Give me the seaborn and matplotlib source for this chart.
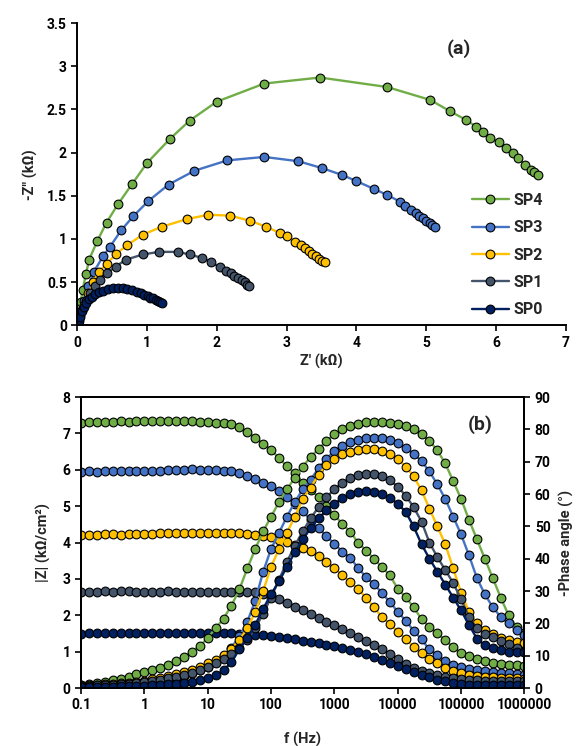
import numpy as np
import pandas as pd
import matplotlib
matplotlib.use("Agg")
import matplotlib.pyplot as plt
import seaborn as sns

# Samples and colours (Excel-like palette)
SAMPLES = ["SP4", "SP3", "SP2", "SP1", "SP0"]
COLORS = {"SP4": "#70AD47", "SP3": "#4472C4", "SP2": "#FFC000",
          "SP1": "#44546A", "SP0": "#002060"}

# (a) Nyquist data, Z' and -Z'' in kOhm
SP4_ZRE = [0.01, 0.03, 0.05, 0.077, 0.125, 0.17, 0.29, 0.42, 0.59, 0.79, 1.0, 1.33, 1.61, 2.0, 2.68,
           3.48, 4.44, 5.06, 5.34, 5.57, 5.72, 5.82, 5.92, 6.04, 6.15, 6.24, 6.32, 6.42, 6.50, 6.55, 6.60]
SP4_ZIM = [0.05, 0.15, 0.27, 0.41, 0.59, 0.76, 0.98, 1.19, 1.41, 1.64, 1.88, 2.16, 2.37, 2.59, 2.80,
           2.87, 2.76, 2.61, 2.48, 2.38, 2.30, 2.24, 2.17, 2.12, 2.05, 2.00, 1.94, 1.86, 1.80, 1.77, 1.74]
SP3_ZRE = [0.01, 0.04, 0.09, 0.16, 0.24, 0.37, 0.47, 0.63, 0.80, 1.02, 1.31, 1.68, 2.15, 2.68, 3.17,
           3.51, 3.80, 4.00, 4.25, 4.44, 4.63, 4.70, 4.79, 4.85, 4.90, 4.95, 5.00, 5.05, 5.09, 5.12]
SP3_ZIM = [0.04, 0.14, 0.28, 0.45, 0.62, 0.80, 0.91, 1.10, 1.26, 1.44, 1.63, 1.79, 1.91, 1.95, 1.90,
           1.82, 1.74, 1.67, 1.58, 1.51, 1.43, 1.38, 1.33, 1.30, 1.27, 1.24, 1.21, 1.18, 1.16, 1.14]
SP2_ZRE = [0.01, 0.04, 0.09, 0.16, 0.23, 0.31, 0.42, 0.56, 0.72, 0.94, 1.21, 1.57, 1.88, 2.19, 2.48,
           2.71, 2.90, 3.01, 3.12, 3.21, 3.26, 3.32, 3.37, 3.42, 3.47, 3.51, 3.55]
SP2_ZIM = [0.03, 0.12, 0.24, 0.37, 0.50, 0.62, 0.71, 0.83, 0.93, 1.05, 1.14, 1.23, 1.28, 1.27, 1.21,
           1.14, 1.07, 1.03, 0.97, 0.93, 0.90, 0.86, 0.83, 0.80, 0.77, 0.74, 0.73]
SP1_ZRE = [0.01, 0.03, 0.07, 0.12, 0.18, 0.26, 0.33, 0.42, 0.55, 0.70, 0.94, 1.17, 1.44, 1.61, 1.79,
           1.92, 2.05, 2.13, 2.20, 2.25, 2.31, 2.36, 2.40, 2.43, 2.46]
SP1_ZIM = [0.03, 0.09, 0.18, 0.28, 0.37, 0.45, 0.52, 0.60, 0.68, 0.76, 0.82, 0.85, 0.85, 0.82, 0.78,
           0.73, 0.67, 0.63, 0.60, 0.57, 0.55, 0.53, 0.50, 0.47, 0.45]
SP0_ZRE = [0.02, 0.04, 0.07, 0.10, 0.13, 0.17, 0.21, 0.26, 0.31, 0.37, 0.44, 0.51, 0.58, 0.65, 0.72,
           0.79, 0.85, 0.91, 0.96, 1.01, 1.05, 1.09, 1.13, 1.16, 1.19, 1.21]
SP0_ZIM = [0.05, 0.10, 0.16, 0.21, 0.26, 0.30, 0.33, 0.36, 0.38, 0.40, 0.42, 0.43, 0.43, 0.43, 0.42,
           0.41, 0.39, 0.37, 0.35, 0.34, 0.32, 0.31, 0.29, 0.28, 0.27, 0.26]

# (b) Bode data: frequency sweep (Hz), |Z| (kOhm/cm2), -phase (deg)
FREQ = [0.1, 0.1334, 0.1778, 0.2371, 0.3162, 0.4217, 0.5623, 0.7499,
        1.0, 1.334, 1.778, 2.371, 3.162, 4.217, 5.623, 7.499,
        10.0, 13.34, 17.78, 23.71, 31.62, 42.17, 56.23, 74.99,
        100.0, 133.4, 177.8, 237.1, 316.2, 421.7, 562.3, 749.9,
        1000.0, 1334.0, 1778.0, 2371.0, 3162.0, 4217.0, 5623.0, 7499.0,
        1e4, 1.334e4, 1.778e4, 2.371e4, 3.162e4, 4.217e4, 5.623e4, 7.499e4,
        1e5, 1.334e5, 1.778e5, 2.371e5, 3.162e5, 4.217e5, 5.623e5, 7.499e5, 1e6]

SP4_ZMOD = [7.30, 7.31, 7.31, 7.32, 7.32, 7.33, 7.32, 7.33, 7.33, 7.34, 7.33, 7.34, 7.34, 7.33, 7.33, 7.32,
            7.31, 7.30, 7.28, 7.25, 7.17, 7.05, 6.88, 6.72, 6.55, 6.32, 6.10, 5.90, 5.65, 5.45, 5.25, 5.00,
            4.75, 4.52, 4.29, 4.00, 3.78, 3.55, 3.33, 3.10, 2.73, 2.50, 2.22, 1.90, 1.68, 1.50, 1.32, 1.12,
            0.96, 0.88, 0.80, 0.74, 0.70, 0.67, 0.64, 0.62, 0.60]
SP3_ZMOD = [5.95, 5.96, 5.95, 5.96, 5.96, 5.97, 5.96, 5.97, 5.97, 5.98, 5.97, 5.99, 6.00, 6.00, 6.01, 6.00,
            6.00, 5.99, 5.98, 5.96, 5.92, 5.82, 5.74, 5.65, 5.56, 5.42, 5.26, 5.06, 4.86, 4.62, 4.40, 4.17,
            3.97, 3.75, 3.58, 3.30, 3.05, 2.85, 2.62, 2.36, 2.10, 1.85, 1.58, 1.34, 1.06, 0.90, 0.74, 0.64,
            0.57, 0.53, 0.50, 0.47, 0.45, 0.42, 0.40, 0.38, 0.36]
SP2_ZMOD = [4.20, 4.22, 4.22, 4.23, 4.24, 4.22, 4.23, 4.24, 4.24, 4.24, 4.25, 4.25, 4.26, 4.26, 4.27, 4.27,
            4.27, 4.27, 4.26, 4.26, 4.25, 4.24, 4.22, 4.18, 4.14, 4.08, 4.01, 3.94, 3.86, 3.76, 3.62, 3.47,
            3.30, 3.10, 2.92, 2.72, 2.48, 2.22, 1.95, 1.76, 1.55, 1.35, 1.13, 0.97, 0.80, 0.68, 0.55, 0.46,
            0.40, 0.35, 0.32, 0.30, 0.29, 0.28, 0.27, 0.27, 0.26]
SP1_ZMOD = [2.65, 2.64, 2.65, 2.66, 2.65, 2.66, 2.67, 2.65, 2.65, 2.64, 2.65, 2.66, 2.65, 2.65, 2.64, 2.65,
            2.65, 2.64, 2.65, 2.64, 2.64, 2.64, 2.63, 2.58, 2.52, 2.44, 2.34, 2.24, 2.14, 2.03, 1.92, 1.82,
            1.72, 1.61, 1.50, 1.40, 1.30, 1.19, 1.06, 0.94, 0.80, 0.66, 0.56, 0.48, 0.41, 0.35, 0.30, 0.27,
            0.24, 0.22, 0.21, 0.20, 0.20, 0.19, 0.19, 0.18, 0.18]
SP0_ZMOD = [1.49, 1.50, 1.50, 1.51, 1.50, 1.50, 1.51, 1.50, 1.50, 1.50, 1.51, 1.50, 1.50, 1.51, 1.50, 1.50,
            1.51, 1.50, 1.50, 1.50, 1.49, 1.48, 1.47, 1.45, 1.42, 1.40, 1.37, 1.34, 1.30, 1.27, 1.23, 1.19,
            1.15, 1.10, 1.05, 0.99, 0.93, 0.86, 0.78, 0.70, 0.60, 0.52, 0.44, 0.36, 0.29, 0.23, 0.18, 0.14,
            0.11, 0.09, 0.08, 0.08, 0.07, 0.07, 0.07, 0.07, 0.07]

SP4_PHASE = [1.0, 1.3, 1.6, 2.0, 2.4, 2.9, 3.4, 4.3, 5.0, 5.6, 6.3, 7.2, 8.3, 9.6, 11.2, 13.0,
             15.5, 18.5, 21.5, 25.5, 30.5, 37.0, 43.0, 48.5, 53.0, 57.5, 61.5, 65.0, 68.5, 71.5, 74.0, 76.5,
             78.5, 80.0, 81.0, 81.8, 82.2, 82.4, 82.3, 82.1, 81.8, 81.0, 80.0, 78.5, 76.5, 73.5, 69.5, 64.0,
             58.5, 52.0, 46.0, 40.0, 34.0, 28.0, 22.5, 19.0, 17.0]
SP3_PHASE = [0.5, 0.6, 0.7, 0.8, 0.9, 1.0, 1.2, 1.4, 1.7, 2.0, 2.3, 2.7, 3.2, 3.8, 4.6, 5.5,
             6.6, 8.0, 9.8, 12.5, 16.0, 20.5, 27.0, 36.0, 43.0, 48.0, 53.0, 57.5, 61.5, 64.5, 68.0, 71.0,
             73.3, 75.0, 76.0, 76.8, 77.3, 77.5, 77.3, 76.8, 75.8, 74.3, 72.5, 70.2, 67.0, 63.0, 58.5, 53.0,
             47.5, 41.0, 34.0, 29.0, 25.0, 22.0, 20.0, 18.0, 16.5]
SP2_PHASE = [0.8, 0.9, 1.0, 1.1, 1.3, 1.5, 1.7, 2.0, 2.3, 2.7, 3.1, 3.6, 4.2, 4.9, 5.7, 6.6,
             7.6, 8.8, 10.3, 12.2, 14.8, 18.5, 23.5, 30.0, 37.5, 43.0, 48.0, 53.0, 58.5, 62.0, 66.0, 69.0,
             71.0, 72.3, 73.1, 73.6, 73.9, 73.8, 73.4, 72.5, 70.8, 68.5, 65.5, 61.2, 55.5, 50.0, 44.5, 37.0,
             29.5, 23.5, 20.0, 18.0, 16.8, 15.6, 14.8, 14.2, 13.8]
SP1_PHASE = [0.6, 0.7, 0.8, 0.9, 1.0, 1.2, 1.4, 1.6, 1.9, 2.2, 2.6, 3.0, 3.5, 4.1, 4.8, 5.6,
             6.5, 7.6, 8.9, 10.5, 12.5, 15.0, 18.5, 23.0, 28.0, 33.5, 39.0, 44.0, 48.5, 52.5, 56.0, 59.0,
             61.5, 63.5, 65.0, 65.8, 66.2, 66.1, 65.5, 64.3, 62.3, 59.5, 56.0, 51.5, 45.0, 40.5, 36.5, 32.5,
             27.5, 22.0, 18.5, 16.8, 15.8, 14.7, 13.5, 12.3, 11.0]
SP0_PHASE = [0.3, 0.3, 0.35, 0.4, 0.45, 0.5, 0.55, 0.6, 0.7, 0.8, 0.9, 1.1, 1.3, 1.6, 2.0, 2.5,
             3.1, 3.9, 5.5, 8.0, 12.0, 15.5, 19.5, 24.5, 29.0, 33.0, 37.5, 42.0, 46.0, 49.5, 52.5, 55.0,
             57.0, 58.7, 59.9, 60.6, 60.8, 60.6, 60.0, 58.8, 57.0, 54.5, 50.0, 44.5, 40.0, 36.0, 32.0, 28.0,
             24.0, 19.5, 15.3, 13.2, 12.3, 11.8, 11.3, 11.1, 11.0]

# Long tables for seaborn
nyq_parts = []
for name, xs, ys in [("SP4", SP4_ZRE, SP4_ZIM), ("SP3", SP3_ZRE, SP3_ZIM), ("SP2", SP2_ZRE, SP2_ZIM),
                     ("SP1", SP1_ZRE, SP1_ZIM), ("SP0", SP0_ZRE, SP0_ZIM)]:
    nyq_parts.append(pd.DataFrame({"zre": xs, "zim": ys, "sample": name}))
nyq = pd.concat(nyq_parts, ignore_index=True)

bode_parts = []
for name, zm, ph in [("SP4", SP4_ZMOD, SP4_PHASE), ("SP3", SP3_ZMOD, SP3_PHASE), ("SP2", SP2_ZMOD, SP2_PHASE),
                     ("SP1", SP1_ZMOD, SP1_PHASE), ("SP0", SP0_ZMOD, SP0_PHASE)]:
    bode_parts.append(pd.DataFrame({"freq": FREQ, "zmod": zm, "phase": ph, "sample": name}))
bode = pd.concat(bode_parts, ignore_index=True)

# Style
sns.set_style("white")
plt.rcParams["font.family"] = ["Roboto", "DejaVu Sans"]
plt.rcParams["font.weight"] = "bold"
plt.rcParams["axes.labelweight"] = "bold"

TICK_FS = 10
LABEL_FS = 10.5
LINE_KW = dict(marker="o", markersize=6.3, markeredgecolor="black", markeredgewidth=0.8,
               linewidth=1.7, sort=False, estimator=None)

fig = plt.figure(figsize=(5.85, 7.46), dpi=100)

# ---------------- (a) Nyquist ----------------
ax1 = fig.add_axes([0.132, 0.564, 0.835, 0.405])
sns.lineplot(data=nyq, x="zre", y="zim", hue="sample", hue_order=SAMPLES, palette=COLORS,
             ax=ax1, **LINE_KW)
ax1.set_xlim(0, 7)
ax1.set_ylim(0, 3.5)
ax1.set_xticks(range(0, 8))
ax1.set_yticks([0, 0.5, 1, 1.5, 2, 2.5, 3, 3.5])
ax1.set_yticklabels(["0", "0.5", "1", "1.5", "2", "2.5", "3", "3.5"])
ax1.set_xlabel("Z' (kΩ)", fontsize=LABEL_FS, fontweight="bold", labelpad=3)
ax1.set_ylabel('-Z" (kΩ)', fontsize=LABEL_FS, fontweight="bold", labelpad=6)
for side in ["top", "right"]:
    ax1.spines[side].set_visible(False)
for side in ["left", "bottom"]:
    ax1.spines[side].set_color("black")
    ax1.spines[side].set_linewidth(1.4)
ax1.tick_params(direction="out", length=4, width=1.2, labelsize=TICK_FS, colors="black", left=True, bottom=True)
ax1.text(0.782, 0.915, "(a)", transform=ax1.transAxes, fontsize=14, fontweight="bold", ha="center", va="center")
leg = ax1.legend(loc="upper left", bbox_to_anchor=(0.795, 0.46), frameon=False, fontsize=11.5,
                 handlelength=2.3, handletextpad=0.3, labelspacing=0.78, borderaxespad=0)
for t in leg.get_texts():
    t.set_fontweight("bold")

# ---------------- (b) Bode ----------------
ax2 = fig.add_axes([0.1385, 0.0777, 0.758, 0.390])
ax2.set_xscale("log")
sns.lineplot(data=bode, x="freq", y="zmod", hue="sample", hue_order=SAMPLES, palette=COLORS,
             ax=ax2, legend=False, **LINE_KW)
ax3 = ax2.twinx()
sns.lineplot(data=bode, x="freq", y="phase", hue="sample", hue_order=SAMPLES, palette=COLORS,
             ax=ax3, legend=False, **LINE_KW)

ax2.set_xlim(0.1, 1e6)
ax2.set_ylim(0, 8)
ax3.set_ylim(0, 90)
decades = [0.1, 1, 10, 100, 1000, 10000, 100000, 1000000]
ax2.set_xticks(decades)
ax2.set_xticklabels(["0.1", "1", "10", "100", "1000", "10000", "100000", "1000000"])
ax2.xaxis.set_minor_locator(matplotlib.ticker.NullLocator())
ax2.set_yticks(range(0, 9))
ax3.set_yticks(range(0, 91, 10))
ax2.set_xlabel("f (Hz)", fontsize=LABEL_FS, fontweight="bold", labelpad=14)
ax2.set_ylabel("|Z| (kΩ/cm²)", fontsize=LABEL_FS, fontweight="bold", labelpad=8)
ax3.set_ylabel("-Phase angle (°)", fontsize=LABEL_FS, fontweight="bold", labelpad=6)
for a in (ax2, ax3):
    for side in a.spines:
        a.spines[side].set_color("black")
        a.spines[side].set_linewidth(1.4)
ax2.tick_params(direction="out", length=4, width=1.2, labelsize=TICK_FS, colors="black", left=True, bottom=True)
ax3.tick_params(direction="out", length=4, width=1.2, labelsize=TICK_FS, colors="black", right=True)
ax3.text(0.90, 0.905, "(b)", transform=ax3.transAxes, fontsize=14, fontweight="bold", ha="center", va="center")

fig.savefig("out.png", dpi=100)
